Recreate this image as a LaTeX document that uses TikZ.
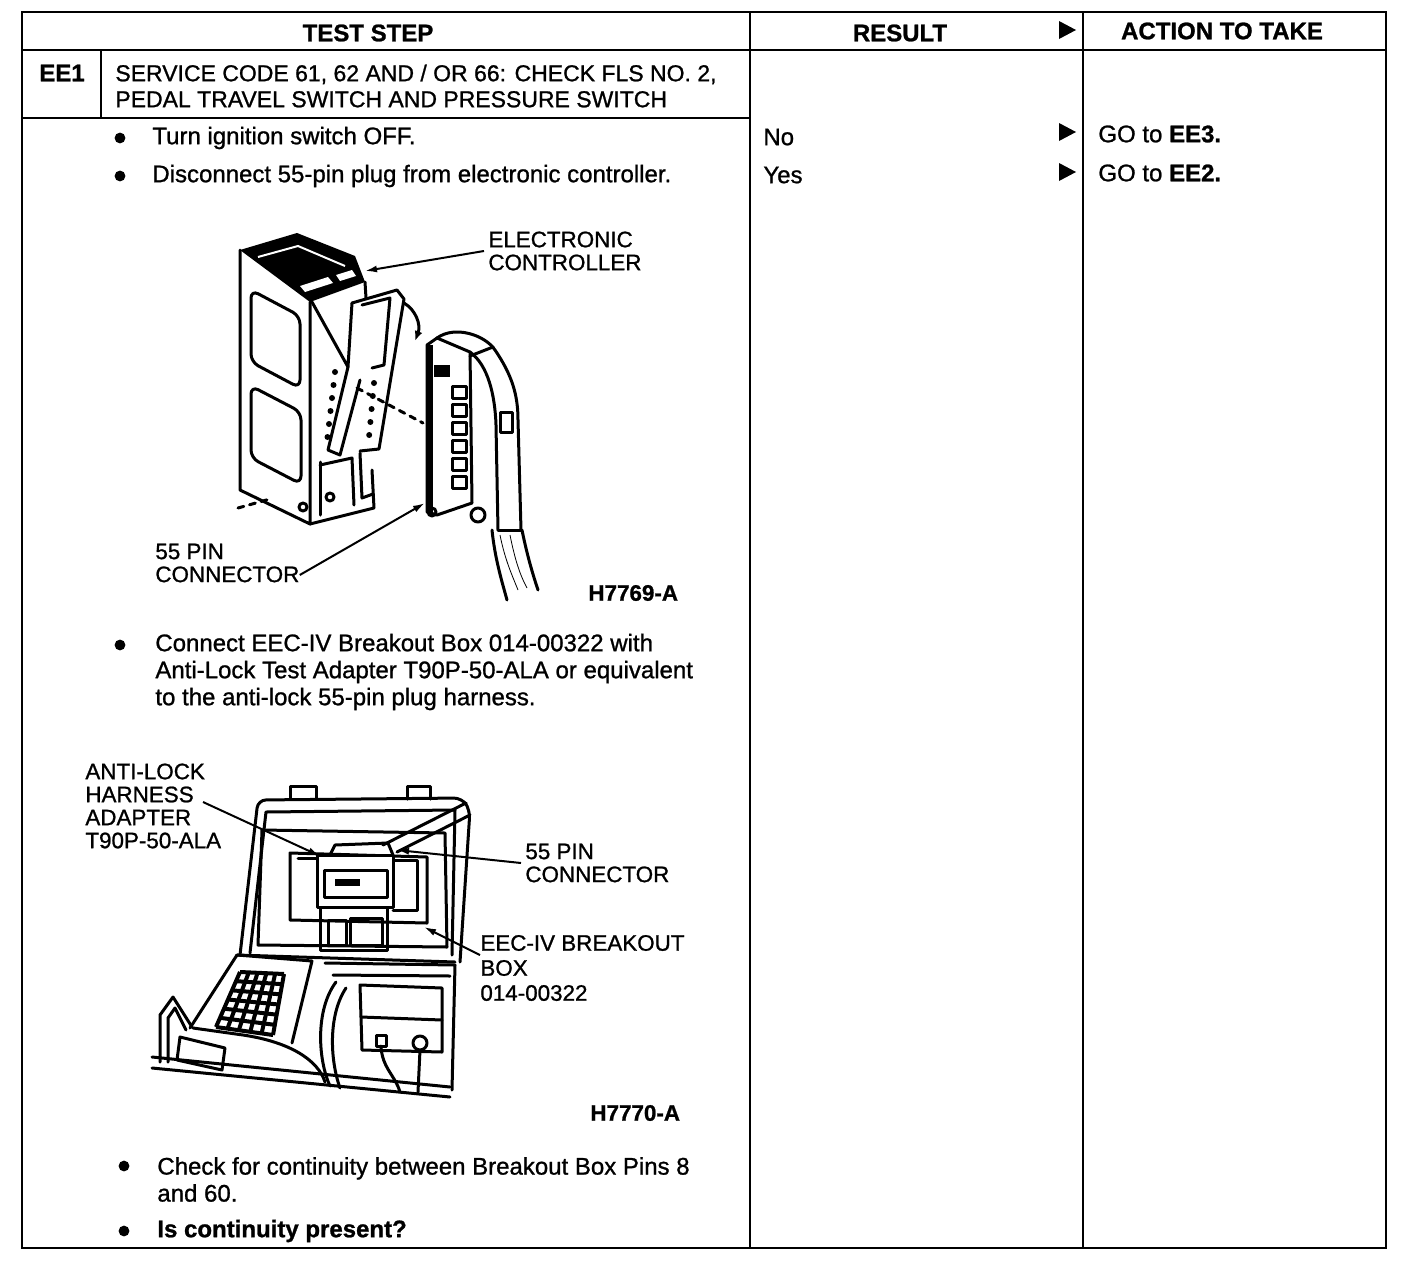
\documentclass[tikz,border=0pt]{standalone}
\usepackage{fontspec}
\setmainfont{Liberation Sans}[FakeBold=1]
\usepackage{tikz}
\usetikzlibrary{arrows.meta,calc}

\begin{document}
\begin{tikzpicture}[x=0.5pt,y=-0.5pt,
    txt/.style={font=\fontsize{12}{13.5}\selectfont, inner sep=0pt, anchor=west, align=left},
    hdr/.style={font=\bfseries\fontsize{12}{13.5}\selectfont, inner sep=0pt},
    lbl/.style={font=\fontsize{11.2}{11.5}\selectfont, inner sep=0pt, anchor=west, align=left},
    fig/.style={font=\bfseries\fontsize{11.2}{11.5}\selectfont, inner sep=0pt, anchor=west},
    bul/.style={circle, fill=black, inner sep=0pt, minimum size=5.4pt},
    rule/.style={line width=1pt},
    ln/.style={line width=1.5pt, line join=round, line cap=round},
    lead/.style={line width=1pt, -{Latex[length=6pt,width=3.5pt]}},
    tipmark/.pic={\fill (-8,-9) -- (9,0) -- (-8,9) -- cycle;}
  ]
  \fill[white] (0,0) rectangle (1408,1274);
  \useasboundingbox (0,0) rectangle (1408,1274);

  % table
  \draw[rule] (22,12) rectangle (1386,1248);
  \draw[rule] (22,50) -- (1386,50);
  \draw[rule] (22,118) -- (750,118);
  \draw[rule] (101,50) -- (101,118);
  \draw[rule] (750,12) -- (750,1248);
  \draw[rule] (1083,12) -- (1083,1248);

  \node[hdr] (ts) at (368,33) {TEST STEP};
  \node[hdr] (rs) at (900,33) {RESULT};
  \node[hdr] (at) at (1222,31) {ACTION TO TAKE};
  \pic at (1067,30) {tipmark};
  \node[hdr] (ee) at (62,73) {EE1};
  \node[txt, font=\fontsize{11.5}{13}\selectfont] (sc) at (115,86) {SERVICE CODE 61, 62 AND / OR 66: CHECK FLS NO. 2,\\PEDAL TRAVEL SWITCH AND PRESSURE SWITCH};

  \foreach \y/\t/\n in {138/Turn ignition switch OFF./s1,176/Disconnect 55-pin plug from electronic controller./s2} {
    \node[bul] at (120,\y) {};
    \node[txt] (\n) at (152,\y) {\t};
  }

  % results
  \node[txt] (no) at (763,137) {No};
  \node[txt] (yes) at (763,175) {Yes};
  \pic at (1067,132) {tipmark};
  \pic at (1067,172) {tipmark};
  \node[txt] (g3) at (1098,134) {GO to \textbf{EE3.}};
  \node[txt] (g2) at (1098,173) {GO to \textbf{EE2.}};

  % controller
  \fill (240,250) -- (297,233) -- (355,256) -- (365,282) -- (310,302) -- cycle;
  \draw[white, line width=1pt] (258,257) -- (298,246) -- (345,266);
  \fill[white] (300,286) -- (328,277) -- (333,283) -- (305,292) -- cycle;
  \fill[white] (336,275) -- (352,270) -- (356,276) -- (340,281) -- cycle;
  \draw[ln] (240,250) -- (240,490) -- (310,524) -- (310,302);
  \draw[ln] (310,524) -- (374,508) -- (372,470);
  \draw[ln] (365,282) -- (366,298);
  \draw[ln, rounded corners=4] (251,290) -- (300,316) -- (300,388) -- (251,362) -- cycle;
  \draw[ln, rounded corners=4] (251,386) -- (301,412) -- (301,484) -- (251,458) -- cycle;
  \draw[ln] (312,302) -- (348,367) -- (352,303);
  \draw[ln] (352,303) -- (397,290) -- (404,299) -- (379,449) -- (360,451);
  \draw[ln] (362,305) -- (390,298) -- (384,365) -- (372,368);
  \draw[ln] (348,367) -- (328,450) -- (340,455) -- (360,380);
  \foreach \k in {0,...,5} \fill ({335-1.5*\k},{372+13*\k}) circle (3);
  \foreach \k in {0,...,4} \fill ({374-1.2*\k},{383+13*\k}) circle (3);
  \draw[ln] (320,462) -- (320,515);
  \draw[ln] (320,465) -- (352,458) -- (354,505);
  \draw[ln] (360,453) -- (362,498) -- (373,494);
  \draw[ln] (303,507) circle (4);
  \draw[ln] (330,497) circle (4);
  \draw[ln, dashed] (238,508) -- (270,499);

  % plug
  \fill (427,345) rectangle (433,512);
  \draw[ln] (427,345) -- (437,338) -- (470,352) -- (472,503) -- (437,515) -- (427,512) -- cycle;
  \draw[ln] (437,338) .. controls (455,325) and (485,335) .. (495,350) .. controls (512,375) and (518,395) .. (518,420) -- (521,530);
  \draw[ln] (470,352) .. controls (488,365) and (495,395) .. (496,425) -- (498,530);
  \draw[ln] (493,347) -- (470,356);
  \draw[ln] (498,530) -- (521,530);
  \draw[ln] (492,530) .. controls (495,560) and (503,585) .. (507,600);
  \draw[ln] (522,530) .. controls (527,555) and (533,575) .. (538,590);
  \draw (500,535) .. controls (505,560) and (512,575) .. (518,590);
  \draw (510,535) .. controls (515,560) and (520,575) .. (527,588);
  \draw[ln] (500,412) rectangle (512,432);
  \fill (434,365) rectangle (450,377);
  \foreach \k in {0,...,5} \draw[ln] (452,{386+\k*18}) rectangle (466,{398+\k*18});
  \draw[ln] (478,515) circle (7);
  \draw[ln] (432,512) circle (4);
  \draw[ln, dashed] (357,388) -- (423,423);
  \draw[ln, -{Latex[length=5pt,width=4pt]}] (404,303) .. controls (416,310) and (421,325) .. (415,341);

  \node[lbl] (ec) at (488,251) {ELECTRONIC\\CONTROLLER};
  \node[lbl] (pc1) at (155,563) {55 PIN\\CONNECTOR};
  \node[fig] (f1) at (588,593) {H7769-A};
  \coordinate (ecx) at (365,271);
  \coordinate (pcx) at (425,503);
  \draw[lead] ([xshift=-2pt]ec.west) -- (ecx);
  \draw[lead] ([yshift=-6pt]pc1.east) -- (pcx);

  \node[bul] at (120,645) {};
  \node[txt] (s3) at (155,672) {Connect EEC-IV Breakout Box 014-00322 with\\Anti-Lock Test Adapter T90P-50-ALA or equivalent\\to the anti-lock 55-pin plug harness.};

  % breakout box case
  \draw[ln, rounded corners=4] (240,955) -- (258,800) -- (462,798) -- (470,810) -- (460,962);
  \draw[ln] (250,953) -- (266,812) -- (455,810) -- (452,955);
  \draw[ln] (290,799) -- (290,786) -- (316,786) -- (316,799);
  \draw[ln] (407,799) -- (407,786) -- (430,786) -- (430,799);
  \draw[ln] (258,945) -- (262,830) -- (445,833) -- (447,947) -- cycle;
  \draw[ln] (290,853) -- (427,857) -- (427,923) -- (290,920) -- cycle;
  \draw[ln] (298,858) -- (317,858);
  \draw[ln] (393,860) -- (417,860) -- (417,910) -- (393,910);
  \draw[ln] (383,845) -- (466,803);
  \draw[ln] (397,852) -- (470,815);
  \draw[ln, fill=white] (317,855) rectangle (393,907);
  \draw[ln] (324,870) rectangle (387,897);
  \fill (335,879) rectangle (360,886);
  \draw[ln] (330,855) -- (335,845) -- (388,843) -- (393,855);
  \draw[ln] (320,907) rectangle (387,950);
  \draw[ln] (328,920) rectangle (346,945);
  \draw[ln] (350,918) rectangle (382,945);
  \draw[ln] (237,955) -- (455,962);

  % keypad side
  \coordinate (k1) at (240,972);
  \coordinate (k2) at (284,974);
  \coordinate (k3) at (273,1035);
  \coordinate (k4) at (216,1027);
  \draw[ln] (237,955) -- (312,961) -- (292,1043);
  \draw[ln] (237,955) -- (190,1028);
  \foreach \i in {0,...,5} \draw[line width=2pt] ($(k1)!\i/5!(k2)$) -- ($(k4)!\i/5!(k3)$);
  \foreach \j in {0,...,6} \draw[line width=2pt] ($(k1)!\j/6!(k4)$) -- ($(k2)!\j/6!(k3)$);
  \draw[ln] (160,1062) -- (160,1015) -- (173,997) -- (192,1027);
  \draw[ln] (168,1062) -- (168,1018) -- (175,1008) -- (186,1030);
  \draw[ln] (180,1037) -- (225,1048) -- (222,1070) -- (177,1060) -- cycle;
  \draw[ln] (193,1028) -- (243,1035) .. controls (290,1042) and (318,1060) .. (325,1082);

  % base well
  \draw[ln] (325,963) -- (455,965) -- (452,1090);
  \draw[ln] (333,975) -- (450,976);
  \draw[ln] (360,985) -- (362,1050) -- (442,1052) -- (442,988) -- cycle;
  \draw[ln] (361,1017) -- (442,1020);
  \draw[ln] (376,1035) rectangle (386,1046);
  \draw[ln] (381,1046) .. controls (382,1068) and (395,1075) .. (400,1092);
  \draw[ln] (420,1043) circle (7);
  \draw[ln] (420,1050) -- (418,1092);
  \draw[ln] (336,982) .. controls (315,1010) and (318,1060) .. (330,1086);
  \draw[ln] (346,988) .. controls (328,1015) and (330,1060) .. (340,1088);
  \draw[ln] (152,1057) -- (450,1087);
  \draw[ln] (152,1068) -- (450,1097);

  \node[lbl] (al) at (85,806) {ANTI-LOCK\\HARNESS\\ADAPTER\\T90P-50-ALA};
  \node[lbl] (pc2) at (525,863) {55 PIN\\CONNECTOR};
  \node[lbl] (eb) at (480,968) {EEC-IV BREAKOUT\\[1pt]BOX\\[1pt]014-00322};
  \node[fig] (f2) at (590,1113) {H7770-A};
  \coordinate (alx) at (203,802);
  \coordinate (aly) at (320,856);
  \coordinate (pcy) at (397,850);
  \coordinate (ebx) at (480,955);
  \coordinate (eby) at (424,927);
  \draw[lead] (alx) -- (aly);
  \draw[lead] ([xshift=-2pt]pc2.west) -- (pcy);
  \draw[lead] (ebx) -- (eby);

  \node[bul] at (124,1166) {};
  \node[txt] (s4) at (157,1179.5) {Check for continuity between Breakout Box Pins 8\\and 60.};
  \node[bul] at (124,1231) {};
  \node[txt, font=\bfseries\fontsize{12}{13.5}\selectfont] (s5) at (157,1231) {Is continuity present?};
\end{tikzpicture}
\end{document}
